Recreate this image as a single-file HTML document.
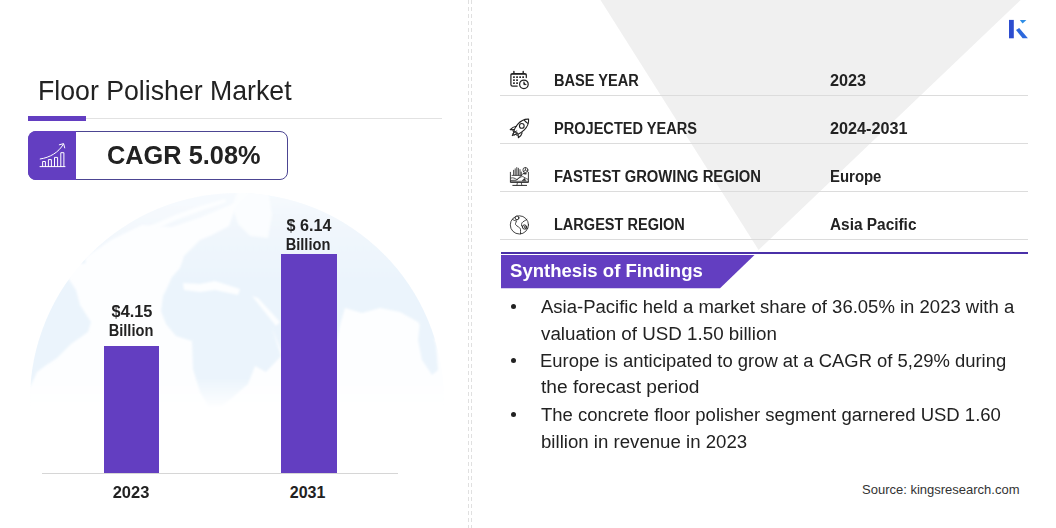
<!DOCTYPE html>
<html>
<head>
<meta charset="utf-8">
<title>Floor Polisher Market</title>
<style>
  html, body { margin: 0; padding: 0; }
  body {
    width: 1056px; height: 528px; position: relative; overflow: hidden;
    background: #ffffff;
    font-family: "Liberation Sans", sans-serif;
    color: #222222;
  }
  .abs { position: absolute; }
  .t { position: absolute; white-space: nowrap; line-height: 1; transform-origin: 0 50%; }
  .b { font-weight: bold; }
  .hr { position: absolute; height: 1px; background: #dcdcdc; }
  .bar { position: absolute; background: #633ec1; }
  .ctr { position: absolute; text-align: center; white-space: nowrap; font-weight: bold; transform-origin: 50% 50%; }
</style>
</head>
<body>

<!-- background svg: triangle, globe, dashed divider -->
<svg class="abs" style="left:0;top:0" width="1056" height="528" viewBox="0 0 1056 528">
  <!-- grey triangle -->
  <polygon points="600.5,0 1020.7,0 758.6,250" fill="#f0f0f0"/>
  <!-- globe -->
  <defs>
    <linearGradient id="gfade" x1="0" y1="180" x2="0" y2="410" gradientUnits="userSpaceOnUse">
      <stop offset="0" stop-color="#fff"/>
      <stop offset="0.86" stop-color="#fff"/>
      <stop offset="1" stop-color="#000"/>
    </linearGradient>
    <mask id="gmask" maskUnits="userSpaceOnUse" x="0" y="180" width="470" height="240"><rect x="0" y="180" width="470" height="240" fill="url(#gfade)"/></mask>
    <clipPath id="gclip"><circle cx="237" cy="400" r="207"/></clipPath>
    <linearGradient id="landg" x1="0" y1="190" x2="0" y2="280" gradientUnits="userSpaceOnUse">
      <stop offset="0" stop-color="#f6fafe"/>
      <stop offset="0.5" stop-color="#f0f6fc"/>
      <stop offset="1" stop-color="#ebf4fc"/>
    </linearGradient>
    <filter id="gblur" x="-5%" y="-5%" width="110%" height="110%"><feGaussianBlur stdDeviation="0.9"/></filter>
  </defs>
  <g mask="url(#gmask)">
    <circle cx="237" cy="400" r="207" fill="#fdfeff"/>
    <g clip-path="url(#gclip)">
    <g fill="url(#landg)" filter="url(#gblur)">
      <path d="M72,268 L92,248 L125,220 L159,202 L200,192 L238,192 L240,201 L199,218 L172,227 L142,225 L111,240 L85,258 Z" opacity="0.8"/>
      <path d="M161,311 L163,296 L168,286 L172,277 L180,268 L184,256 L192,248 L200,240 L212,235 L229,226 L236,206 L250,190 L300,190 L350,215 L390,250 L420,295 L445,340 L428,338 L418,322 L400,312 L380,308 L362,313 L345,308 L340,325 L337,340 L281,350 L272,328 L281,356 L266,372 L255,366 L248,384 L232,398 L222,406 L209,407 L200,392 L193,369 L192,341 L176,336 L166,324 Z"/>
      <path d="M60,283 L68,278 L76,290 L80,305 L91,322 L88,332 L71,344 L57,358 L45,366 L37,372 L30,388 L27,378 L31,358 L40,332 L47,312 L54,295 Z"/>
      <path d="M80,259 L85,258 L86,263 L81,264 Z"/>
      <path d="M420,322 L428,320 L436,345 L438,370 L432,375 L422,360 L418,340 Z"/>
    </g>
    <g fill="#fdfeff" filter="url(#gblur)">
      <path d="M252,296 L258,298 L280,322 L276,326 Z"/>
      <path d="M183,283 L200,284 L215,281 L240,289 L238,295 L215,290 L200,292 L184,290 Z"/>
      <path d="M150,226 L175,215 L200,206 L225,199 L226,202 L200,211 L176,220 L152,231 Z"/>
      <path d="M238,190 L268,190 L272,215 L268,238 L250,236 L238,224 L232,206 Z" opacity="0.85"/>
    </g>
    </g>
  </g>
  <!-- dashed divider -->
  <line x1="468.5" y1="0" x2="468.5" y2="528" stroke="#e0e0e0" stroke-width="1" stroke-dasharray="4 3"/>
  <line x1="471.5" y1="0" x2="471.5" y2="528" stroke="#e0e0e0" stroke-width="1" stroke-dasharray="4 3"/>
</svg>

<!-- title -->
<div class="t" id="title" style="left:38px; top:77px; font-size:28px; color:#222; transform:scaleX(0.953);">Floor Polisher Market</div>
<div class="hr" style="left:28px; top:118px; width:414px; background:#e2e2e2;"></div>
<div class="abs" style="left:28px; top:116px; width:58px; height:5px; background:#633ec1;"></div>

<!-- CAGR box -->
<div class="abs" style="left:28px; top:131px; width:260px; height:49px; box-sizing:border-box; border:1px solid #4c4592; border-radius:8px; background:#fff;"></div>
<div class="abs" style="left:28px; top:131px; width:48px; height:49px; background:#633ec1; border-radius:8px 0 0 8px;"></div>
<svg class="abs" style="left:38px; top:141px" width="30" height="30" viewBox="38 141 30 30" fill="none" stroke="#ffffff" stroke-width="1" stroke-linecap="round" stroke-linejoin="round">
  <path d="M40,166.6 H65"/>
  <path d="M42.6,166.6 V161.5 H45.4 V166.6"/>
  <path d="M48.4,166.6 V159.6 H51.4 V166.6"/>
  <path d="M54.5,166.6 V157.4 H57.6 V166.6"/>
  <path d="M60.8,166.6 V152.7 H63.9 V166.6"/>
  <path d="M40.2,159 C50,157.5 58.5,152.5 63.3,144.3"/>
  <path d="M59.3,144.8 L63.6,143.6 L64.7,147.9"/>
</svg>
<div class="t b" id="cagr" style="left:106.7px; top:143px; font-size:25px; color:#222; transform:scaleX(1.014);">CAGR 5.08%</div>

<!-- chart -->
<div class="bar" style="left:104px; top:346px; width:55px; height:127px;"></div>
<div class="bar" style="left:281px; top:254px; width:56px; height:219px;"></div>
<div class="hr" style="left:41.5px; top:473px; width:356.5px; background:#d6d6d6;"></div>
<div class="ctr" id="v1a" style="left:81.7px; width:100px; top:302px; font-size:16px; line-height:19px; transform:scaleX(1.02);">$4.15</div>
<div class="ctr" id="v1b" style="left:81.2px; width:100px; top:321px; font-size:16px; line-height:19px; transform:scaleX(0.913);">Billion</div>
<div class="ctr" id="v2a" style="left:258.8px; width:100px; top:216px; font-size:16px; line-height:19px; transform:scaleX(1.007);">$ 6.14</div>
<div class="ctr" id="v2b" style="left:258.2px; width:100px; top:235px; font-size:16px; line-height:19px; transform:scaleX(0.913);">Billion</div>
<div class="ctr" id="y1" style="left:81.2px; width:100px; top:483px; font-size:16px; line-height:19px; transform:scaleX(1.03);">2023</div>
<div class="ctr" id="y2" style="left:257.6px; width:100px; top:483px; font-size:16px; line-height:19px; transform:scaleX(1.0);">2031</div>

<!-- table -->
<div class="hr" style="left:500px; top:95px; width:528px;"></div>
<div class="hr" style="left:500px; top:143px; width:528px;"></div>
<div class="hr" style="left:500px; top:191px; width:528px;"></div>
<div class="hr" style="left:500px; top:239px; width:528px;"></div>

<div class="t b" id="k1" style="left:553.7px; top:73px; font-size:16px; transform:scaleX(0.911);">BASE YEAR</div>
<div class="t b" id="k2" style="left:553.7px; top:121px; font-size:16px; transform:scaleX(0.91);">PROJECTED YEARS</div>
<div class="t b" id="k3" style="left:553.7px; top:169px; font-size:16px; transform:scaleX(0.924);">FASTEST GROWING REGION</div>
<div class="t b" id="k4" style="left:553.7px; top:217px; font-size:16px; transform:scaleX(0.908);">LARGEST REGION</div>
<div class="t b" id="w1" style="left:830px; top:73px; font-size:16px; transform:scaleX(1.015);">2023</div>
<div class="t b" id="w2" style="left:830px; top:121px; font-size:16px; transform:scaleX(1.012);">2024-2031</div>
<div class="t b" id="w3" style="left:830.4px; top:169px; font-size:16px; transform:scaleX(0.933);">Europe</div>
<div class="t b" id="w4" style="left:830.2px; top:217px; font-size:16px; transform:scaleX(0.9625);">Asia Pacific</div>


<!-- table icons -->
<svg class="abs" style="left:504px; top:64px" width="34" height="180" viewBox="504 64 34 180" fill="none" stroke="#222" stroke-width="1.25" stroke-linecap="round" stroke-linejoin="round">
  <!-- calendar -->
  <path d="M517.2,86.1 H512.6 Q510.9,86.1 510.9,84.4 V75.2 Q510.9,73.5 512.6,73.5 H524.6 Q526.3,73.5 526.3,75.2 V77.6"/>
  <path d="M511,74.3 H526.2" stroke-width="0.9"/>
  <path d="M513.9,71.4 V73.4 M523.2,71.4 V73.4" stroke-width="1.4"/>
  <g fill="#222" stroke="none">
    <rect x="513.1" y="76.3" width="1.7" height="1.7"/><rect x="516.2" y="76.3" width="1.7" height="1.7"/><rect x="519.3" y="76.3" width="1.7" height="1.7"/><rect x="522.3" y="76.3" width="1.7" height="1.7"/>
    <rect x="513.1" y="79.3" width="1.7" height="1.7"/><rect x="516.2" y="79.3" width="1.7" height="1.7"/>
    <rect x="513.1" y="82.3" width="1.7" height="1.7"/><rect x="516.2" y="82.3" width="1.7" height="1.7"/>
  </g>
  <circle cx="523.9" cy="84.3" r="4.3" fill="#fff"/>
  <path d="M523.9,82 V84.6 H526" fill="#222" stroke-width="1"/>
  <!-- rocket -->
  <g stroke-width="1.1">
    <path d="M528.6,119.1 C524.5,118.9 520.6,120.8 517.6,124.4 C515.8,126.6 514.5,129 513.9,130.6 L517.9,134.2 C519.8,133.4 522.3,131.9 524.3,129.9 C527.4,126.7 528.9,122.9 528.6,119.1 Z"/>
    <circle cx="521.8" cy="125.9" r="2.35"/>
    <path d="M524.4,120.4 C525.4,121.6 526.5,122.6 527.8,123.4"/>
    <path d="M516.2,126.3 C514,126.7 511.8,128 510.2,129.7 L514.1,129.6"/>
    <path d="M522.1,132.9 C521.6,134.9 520.4,136.7 518.4,137.7 L518.1,134.5"/>
    <path d="M512.9,130.7 L514,132.3 L512.3,135.6 L515.9,134.3 L517.2,135.4"/>
    <path d="M513,133.2 L516.8,130.9 M514.6,135 L517.3,132.6" stroke-width="0.9"/>
  </g>
  <!-- monitor with charts -->
  <g stroke-width="0.9" stroke="#2a2a2a">
    <path d="M510.4,172.3 V182.5 H528.4 V172.3"/>
    <path d="M510.4,181.3 H528.4" stroke-width="0.8"/>
    <path d="M517.4,182.7 L516.9,185.2 M521.3,182.7 L521.8,185.2" stroke-width="0.8"/>
    <path d="M512.8,185.4 H526.6" stroke-width="1"/>
    <g stroke-width="1.1" stroke="#555">
      <path d="M513.6,175 V170.2 M515.2,175 V168.8 M516.8,175 V167.6 M518.4,175 V168.4 M520,175 V169.6 M521.3,175 V172"/>
    </g>
    <path d="M512,175.4 H521.8" stroke-width="0.8"/>
    <circle cx="525.4" cy="170" r="2.5" stroke-width="0.85"/>
    <path d="M525.4,170 V167.5 M525.4,170 L527.4,171.5 M525.4,170 L523.4,171.6" stroke-width="0.7"/>
    <path d="M511,178 C513,177.2 515,178.4 517,179.6 C519,178 521,176.5 522.5,176.6 C524,176.8 525.5,178.5 527.8,179.3" stroke-width="0.8"/>
    <path d="M511,180.4 L516.5,180.2 L523.5,173.2 L526,173.4" stroke-width="0.8"/>
    <path d="M522.4,180.4 L524.5,178.3 L525.6,180.4 Z" fill="#222" stroke-width="0.6"/>
    <path d="M523.6,173.6 L526,173.8" stroke-width="1.2"/>
  </g>
  <!-- globe -->
  <g stroke-width="0.85">
    <circle cx="519.4" cy="224.9" r="9.1"/>
    <path d="M512.4,219.2 C513.8,220.3 514.8,220.8 516.6,220.8 C516.2,222.2 515.2,223.4 515.5,224.4 C516,225.7 517.4,226 518.4,226.9 C519.4,227.7 520.3,228 520.5,229.4 C520.7,230.8 520.4,232.4 520.5,233.9"/>
    <path d="M526.9,219.4 C525.2,220.7 523,221.4 522,222.8 C521.2,224 521.8,225 521.4,226 C523,226.2 523.4,227 524,228 C525,229.4 526.6,229 527.7,228.3"/>
    <circle cx="517" cy="217.9" r="1.9" fill="#fff" stroke-width="0.95"/>
    <circle cx="524.5" cy="227" r="2.1" fill="#fff" stroke-width="0.95"/>
    <circle cx="524.6" cy="227" r="0.6" stroke-width="0.7"/>
  </g>
</svg>

<!-- synthesis header -->
<div class="abs" style="left:501px; top:252px; width:527px; height:2px; background:#4a30a8;"></div>
<svg class="abs" style="left:501px; top:255px" width="260" height="34" viewBox="0 0 260 34"><polygon points="0,0 253.5,0 219,33.3 0,33.3" fill="#633ec1"/></svg>
<div class="t b" id="syn" style="left:509.5px; top:262px; font-size:18.3px; color:#fff; transform:scaleX(1.015);">Synthesis of Findings</div>

<!-- bullets -->
<div class="abs" style="left:511.1px; top:303.9px; width:5px; height:5px; border-radius:50%; background:#222;"></div>
<div class="abs" style="left:511.1px; top:357.8px; width:5px; height:5px; border-radius:50%; background:#222;"></div>
<div class="abs" style="left:511.1px; top:411.8px; width:5px; height:5px; border-radius:50%; background:#222;"></div>
<div class="t" id="l1" style="left:540.6px; top:298px; font-size:18.8px; transform:scaleX(0.9854);">Asia-Pacific held a market share of 36.05% in 2023 with a</div>
<div class="t" id="l2" style="left:540.6px; top:325px; font-size:18.8px; transform:scaleX(0.9995);">valuation of USD 1.50 billion</div>
<div class="t" id="l3" style="left:540.2px; top:352px; font-size:18.8px; transform:scaleX(0.9814);">Europe is anticipated to grow at a CAGR of 5,29% during</div>
<div class="t" id="l4" style="left:540.6px; top:378px; font-size:18.8px; transform:scaleX(1.019);">the forecast period</div>
<div class="t" id="l5" style="left:540.6px; top:406px; font-size:18.8px; transform:scaleX(0.9855);">The concrete floor polisher segment garnered USD 1.60</div>
<div class="t" id="l6" style="left:540.6px; top:433px; font-size:18.8px; transform:scaleX(0.992);">billion in revenue in 2023</div>

<!-- source -->
<div class="t" id="src" style="left:862px; top:483px; font-size:13px; color:#333;">Source: kingsresearch.com</div>

<!-- logo -->
<svg class="abs" style="left:1005px; top:16px" width="30" height="26" viewBox="1005 16 30 26">
  <rect x="1009" y="19.9" width="4.8" height="18.4" fill="#2d4dcf"/>
  <polygon points="1016,30.1 1019.2,27.9 1027.9,38.3 1022.6,38.3" fill="#2c68dc"/>
  <polygon points="1019.8,20 1026.4,20 1022.6,23.6" fill="#2f8ee6"/>
</svg>

</body>
</html>
